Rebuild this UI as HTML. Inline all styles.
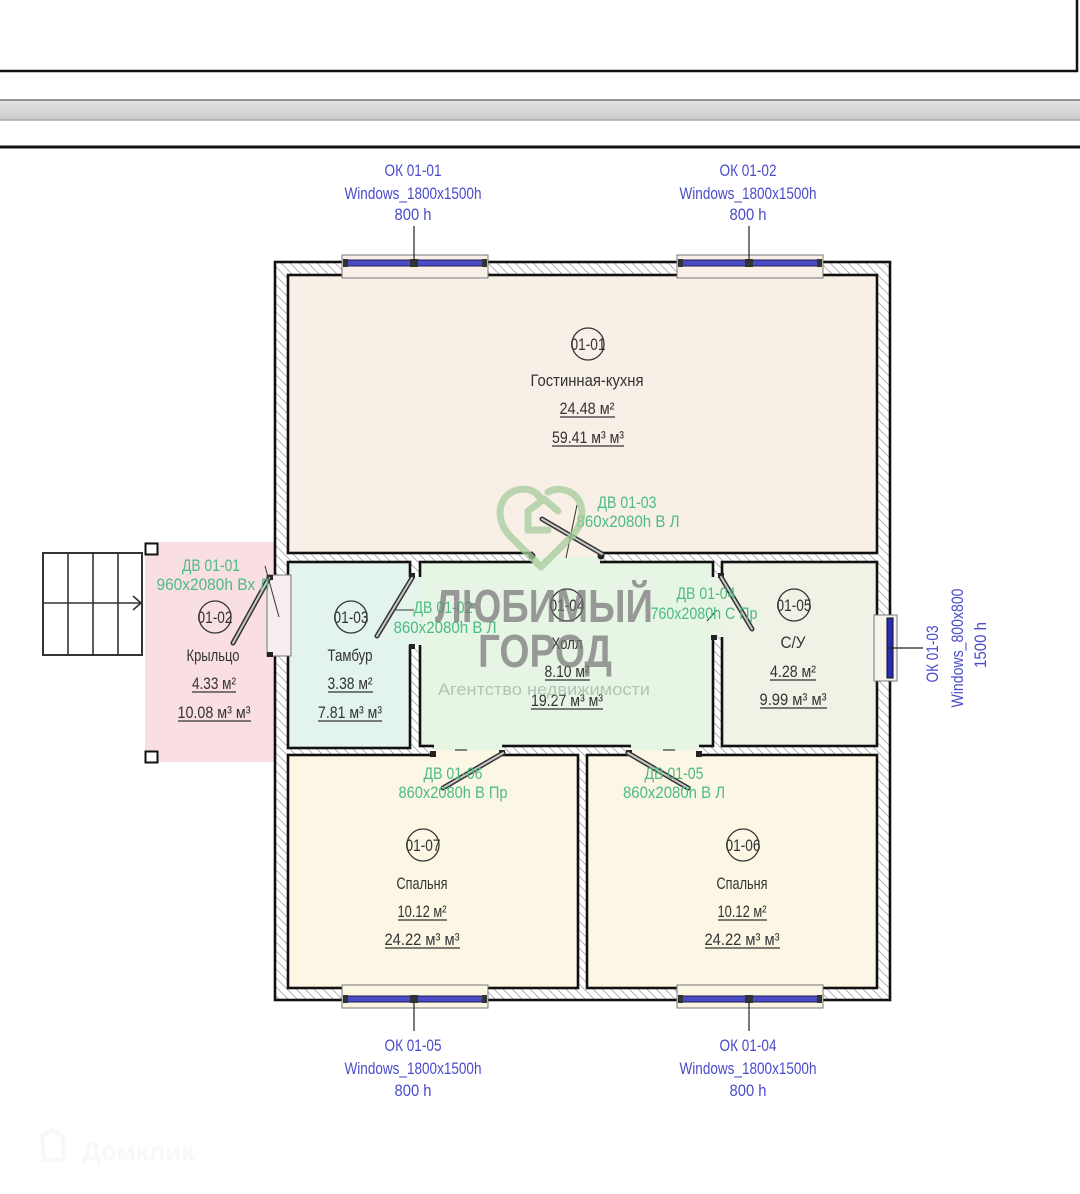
<!DOCTYPE html>
<html><head><meta charset="utf-8"><style>
html,body{margin:0;padding:0;background:#fff;}
svg{display:block;}
.t{font-family:"Liberation Sans Narrow","Liberation Sans",sans-serif;font-size:16.5px;text-anchor:middle;}
.b{fill:#4b4bcc;}
.g{fill:#4cbb82;}
.k{fill:#333;}
.u{stroke:#333;stroke-width:1.2;}
</style></head><body>
<svg width="1080" height="1194" viewBox="0 0 1080 1194" xmlns="http://www.w3.org/2000/svg">
<defs>
<pattern id="h" width="9" height="9" patternUnits="userSpaceOnUse">
<rect width="9" height="9" fill="#fff"/>
<path d="M-2,-2 L11,11 M-2,7 L2,11 M7,-2 L11,2" stroke="#ababab" stroke-width="0.9"/>
</pattern>
<linearGradient id="gb" x1="0" y1="0" x2="0" y2="1">
<stop offset="0" stop-color="#e2e2e2"/><stop offset="0.6" stop-color="#d6d6d6"/><stop offset="1" stop-color="#c8c8c8"/>
</linearGradient>
</defs>
<rect width="1080" height="1194" fill="#fff"/>
<!-- top frame -->
<rect x="-3" y="-3" width="1080" height="74" fill="#fff" stroke="#111" stroke-width="2.5"/>
<rect x="-2" y="100" width="1084" height="20" fill="url(#gb)"/>
<line x1="0" y1="100" x2="1080" y2="100" stroke="#777" stroke-width="1.5"/>
<line x1="0" y1="120" x2="1080" y2="120" stroke="#aaa" stroke-width="1.5"/>
<line x1="0" y1="147" x2="1080" y2="147" stroke="#111" stroke-width="3"/>

<!-- porch -->
<rect x="145" y="542" width="132" height="220" fill="#f9dfe2"/>
<rect x="145.5" y="543.5" width="12" height="11" fill="#fff" stroke="#111" stroke-width="2"/>
<rect x="145.5" y="751.5" width="12" height="11" fill="#fff" stroke="#111" stroke-width="2"/>
<!-- stairs -->
<g stroke="#333" stroke-width="1.6" fill="none">
<rect x="43" y="553" width="99" height="102" fill="#fff" stroke-width="2"/>
<line x1="68" y1="553" x2="68" y2="655"/>
<line x1="93" y1="553" x2="93" y2="655"/>
<line x1="118" y1="553" x2="118" y2="655"/>
<line x1="43" y1="603" x2="142" y2="603"/>
<polyline points="133,596 141,603 133,610"/>
</g>

<!-- building -->
<rect x="275" y="262" width="615" height="738" fill="url(#h)" stroke="#111" stroke-width="2.6"/>
<g stroke="#111" stroke-width="2.6">
<rect x="288" y="275" width="589" height="278" fill="#f8efe6"/>
<rect x="288" y="562" width="122" height="186" fill="#e2f4ec"/>
<rect x="420" y="562" width="293" height="184" fill="#e7f5e4"/>
<rect x="722" y="562" width="155" height="184" fill="#eef3e6"/>
<rect x="288" y="755" width="290" height="233" fill="#fcf6e4"/>
<rect x="587" y="755" width="290" height="233" fill="#fcf6e4"/>
</g>
<!-- openings -->
<rect x="533" y="550" width="67" height="8" fill="#f8efe6"/>
<rect x="533" y="557" width="67" height="7" fill="#e7f5e4"/>
<rect x="408" y="577" width="14" height="68" fill="#e4f4ea"/>
<rect x="711" y="577" width="13" height="60" fill="#eaf4e5"/>
<rect x="434" y="744" width="68" height="6" fill="#e7f5e4"/>
<rect x="434" y="750" width="68" height="7" fill="#fcf6e4"/>
<rect x="631" y="744" width="68" height="6" fill="#e7f5e4"/>
<rect x="631" y="750" width="68" height="7" fill="#fcf6e4"/>
<rect x="267" y="575" width="24" height="81" fill="#f6eeee" stroke="#777" stroke-width="1"/>
<!-- wall end caps -->
<g fill="#222">
<rect x="267" y="575" width="6" height="5"/>
<rect x="267" y="652" width="6" height="5"/>
<rect x="409" y="573" width="6" height="5"/>
<rect x="409" y="644" width="6" height="5"/>
<rect x="718" y="573" width="6" height="5"/>
<rect x="711" y="635" width="6" height="5"/>
<rect x="430" y="751" width="6" height="6"/>
<rect x="499" y="750" width="6" height="6"/>
<rect x="626" y="750" width="6" height="6"/>
<rect x="696" y="751" width="6" height="6"/>
<circle cx="532" cy="556" r="3.5"/>
<circle cx="601" cy="556" r="3.5"/>
</g>
<g stroke="#333" stroke-width="1.2">
<line x1="455" y1="750" x2="467" y2="750"/>
<line x1="663" y1="750" x2="675" y2="750"/>
</g>
<!-- door leaves -->
<g stroke-linecap="round">
<g stroke="#333" stroke-width="5">
<line x1="269" y1="578" x2="233" y2="643"/>
<line x1="412" y1="578" x2="377" y2="636"/>
<line x1="602" y1="554" x2="542" y2="519"/>
<line x1="721" y1="577" x2="752" y2="629"/>
<line x1="503" y1="753" x2="443" y2="788"/>
<line x1="628" y1="753" x2="688" y2="788"/>
</g>
<g stroke="#c8c8c8" stroke-width="2">
<line x1="269" y1="578" x2="233" y2="643"/>
<line x1="412" y1="578" x2="377" y2="636"/>
<line x1="602" y1="554" x2="542" y2="519"/>
<line x1="721" y1="577" x2="752" y2="629"/>
<line x1="503" y1="753" x2="443" y2="788"/>
<line x1="628" y1="753" x2="688" y2="788"/>
</g>
</g>
<g stroke="#333" stroke-width="1">
<line x1="265" y1="566" x2="279" y2="617"/>
<line x1="577" y1="505" x2="566" y2="558"/>
<line x1="707" y1="621" x2="717" y2="610"/>
<line x1="394" y1="610" x2="414" y2="610"/>
</g>

<!-- windows top -->
<g>
<rect x="342" y="255" width="146" height="23" fill="#f8efe6" stroke="#777" stroke-width="1"/>
<rect x="345" y="260" width="140" height="6" fill="#4a4ac6" stroke="#1e1e50" stroke-width="1"/>
<rect x="677" y="255" width="146" height="23" fill="#f8efe6" stroke="#777" stroke-width="1"/>
<rect x="680" y="260" width="140" height="6" fill="#4a4ac6" stroke="#1e1e50" stroke-width="1"/>
<g fill="#333"><rect x="343" y="259" width="5" height="8"/><rect x="410" y="259" width="8" height="8"/><rect x="482" y="259" width="5" height="8"/>
<rect x="678" y="259" width="5" height="8"/><rect x="745" y="259" width="8" height="8"/><rect x="817" y="259" width="5" height="8"/></g>
<line x1="414" y1="226" x2="414" y2="261" stroke="#222" stroke-width="1.2"/>
<line x1="749" y1="226" x2="749" y2="261" stroke="#222" stroke-width="1.2"/>
</g>
<!-- windows bottom -->
<g>
<rect x="342" y="985" width="146" height="23" fill="#fcf6e4" stroke="#777" stroke-width="1"/>
<rect x="345" y="996" width="140" height="6" fill="#4a4ac6" stroke="#1e1e50" stroke-width="1"/>
<rect x="677" y="985" width="146" height="23" fill="#fcf6e4" stroke="#777" stroke-width="1"/>
<rect x="680" y="996" width="140" height="6" fill="#4a4ac6" stroke="#1e1e50" stroke-width="1"/>
<g fill="#333"><rect x="343" y="995" width="5" height="8"/><rect x="410" y="995" width="8" height="8"/><rect x="482" y="995" width="5" height="8"/>
<rect x="678" y="995" width="5" height="8"/><rect x="745" y="995" width="8" height="8"/><rect x="817" y="995" width="5" height="8"/></g>
<line x1="414" y1="1002" x2="414" y2="1031" stroke="#222" stroke-width="1.2"/>
<line x1="749" y1="1002" x2="749" y2="1031" stroke="#222" stroke-width="1.2"/>
</g>
<!-- window right -->
<rect x="874" y="615" width="23" height="66" fill="#f4f3ec" stroke="#777" stroke-width="1"/>
<rect x="887" y="618" width="6" height="60" fill="#2a2ab8" stroke="#111" stroke-width="1"/>
<line x1="887" y1="648" x2="923" y2="648" stroke="#222" stroke-width="1.2"/>

<!-- window labels -->
<text class="t b" x="413" y="176" textLength="57" lengthAdjust="spacingAndGlyphs">ОК 01-01</text>
<text class="t b" x="413" y="199" textLength="137" lengthAdjust="spacingAndGlyphs">Windows_1800x1500h</text>
<text class="t b" x="413" y="220" textLength="37" lengthAdjust="spacingAndGlyphs">800 h</text>
<text class="t b" x="748" y="176" textLength="57" lengthAdjust="spacingAndGlyphs">ОК 01-02</text>
<text class="t b" x="748" y="199" textLength="137" lengthAdjust="spacingAndGlyphs">Windows_1800x1500h</text>
<text class="t b" x="748" y="220" textLength="37" lengthAdjust="spacingAndGlyphs">800 h</text>
<text class="t b" x="413" y="1051" textLength="57" lengthAdjust="spacingAndGlyphs">ОК 01-05</text>
<text class="t b" x="413" y="1074" textLength="137" lengthAdjust="spacingAndGlyphs">Windows_1800x1500h</text>
<text class="t b" x="413" y="1096" textLength="37" lengthAdjust="spacingAndGlyphs">800 h</text>
<text class="t b" x="748" y="1051" textLength="57" lengthAdjust="spacingAndGlyphs">ОК 01-04</text>
<text class="t b" x="748" y="1074" textLength="137" lengthAdjust="spacingAndGlyphs">Windows_1800x1500h</text>
<text class="t b" x="748" y="1096" textLength="37" lengthAdjust="spacingAndGlyphs">800 h</text>
<text class="t b" transform="translate(938,654) rotate(-90)" x="0" y="0" textLength="57" lengthAdjust="spacingAndGlyphs">ОК 01-03</text>
<text class="t b" transform="translate(963,648) rotate(-90)" x="0" y="0" textLength="119" lengthAdjust="spacingAndGlyphs">Windows_800x800</text>
<text class="t b" transform="translate(986,645) rotate(-90)" x="0" y="0" textLength="46" lengthAdjust="spacingAndGlyphs">1500 h</text>

<!-- door labels -->
<text class="t g" x="627" y="508" textLength="59" lengthAdjust="spacingAndGlyphs">ДВ 01-03</text>
<text class="t g" x="628" y="527" textLength="103" lengthAdjust="spacingAndGlyphs">860x2080h В Л</text>
<text class="t g" x="211" y="571" textLength="58" lengthAdjust="spacingAndGlyphs">ДВ 01-01</text>
<text class="t g" x="213" y="590" textLength="113" lengthAdjust="spacingAndGlyphs">960x2080h Вх Л</text>
<text class="t g" x="443" y="613" textLength="59" lengthAdjust="spacingAndGlyphs">ДВ 01-02</text>
<text class="t g" x="445" y="633" textLength="103" lengthAdjust="spacingAndGlyphs">860x2080h В Л</text>
<text class="t g" x="706" y="599" textLength="59" lengthAdjust="spacingAndGlyphs">ДВ 01-04</text>
<text class="t g" x="704" y="619" textLength="107" lengthAdjust="spacingAndGlyphs">760x2080h С Пр</text>
<text class="t g" x="453" y="779" textLength="59" lengthAdjust="spacingAndGlyphs">ДВ 01-06</text>
<text class="t g" x="453" y="798" textLength="109" lengthAdjust="spacingAndGlyphs">860x2080h В Пр</text>
<text class="t g" x="674" y="779" textLength="59" lengthAdjust="spacingAndGlyphs">ДВ 01-05</text>
<text class="t g" x="674" y="798" textLength="102" lengthAdjust="spacingAndGlyphs">860x2080h В Л</text>

<!-- room labels -->
<g fill="none" stroke="#333" stroke-width="1.3">
<circle cx="588" cy="344" r="16"/>
<circle cx="215" cy="617" r="16"/>
<circle cx="351" cy="617" r="16"/>
<circle cx="567" cy="605" r="16"/>
<circle cx="794" cy="605" r="16"/>
<circle cx="423" cy="845" r="16"/>
<circle cx="743" cy="845" r="16"/>
</g>
<text class="t k" x="588" y="350" textLength="35" lengthAdjust="spacingAndGlyphs">01-01</text>
<text class="t k" x="587" y="386" textLength="113" lengthAdjust="spacingAndGlyphs">Гостинная-кухня</text>
<text class="t k" x="587" y="414" textLength="55" lengthAdjust="spacingAndGlyphs">24.48 м²</text>
<line class="u" x1="560" y1="417" x2="615" y2="417"/>
<text class="t k" x="588" y="443" textLength="72" lengthAdjust="spacingAndGlyphs">59.41 м³ м³</text>
<line class="u" x1="552" y1="446" x2="624" y2="446"/>

<text class="t k" x="215" y="623" textLength="35" lengthAdjust="spacingAndGlyphs">01-02</text>
<text class="t k" x="213" y="661" textLength="53" lengthAdjust="spacingAndGlyphs">Крыльцо</text>
<text class="t k" x="214" y="689" textLength="44" lengthAdjust="spacingAndGlyphs">4.33 м²</text>
<line class="u" x1="192" y1="692" x2="236" y2="692"/>
<text class="t k" x="214" y="718" textLength="73" lengthAdjust="spacingAndGlyphs">10.08 м³ м³</text>
<line class="u" x1="178" y1="721" x2="251" y2="721"/>

<text class="t k" x="351" y="623" textLength="35" lengthAdjust="spacingAndGlyphs">01-03</text>
<text class="t k" x="350" y="661" textLength="45" lengthAdjust="spacingAndGlyphs">Тамбур</text>
<text class="t k" x="350" y="689" textLength="45" lengthAdjust="spacingAndGlyphs">3.38 м²</text>
<line class="u" x1="328" y1="692" x2="373" y2="692"/>
<text class="t k" x="350" y="718" textLength="64" lengthAdjust="spacingAndGlyphs">7.81 м³ м³</text>
<line class="u" x1="318" y1="721" x2="382" y2="721"/>

<text class="t k" x="567" y="611" textLength="35" lengthAdjust="spacingAndGlyphs">01-04</text>
<text class="t k" x="567" y="649" textLength="31" lengthAdjust="spacingAndGlyphs">Холл</text>
<text class="t k" x="567" y="677" textLength="45" lengthAdjust="spacingAndGlyphs">8.10 м²</text>
<line class="u" x1="545" y1="680" x2="590" y2="680"/>
<text class="t k" x="567" y="706" textLength="72" lengthAdjust="spacingAndGlyphs">19.27 м³ м³</text>
<line class="u" x1="531" y1="709" x2="603" y2="709"/>

<text class="t k" x="794" y="611" textLength="35" lengthAdjust="spacingAndGlyphs">01-05</text>
<text class="t k" x="793" y="648" textLength="25" lengthAdjust="spacingAndGlyphs">С/У</text>
<text class="t k" x="793" y="677" textLength="46" lengthAdjust="spacingAndGlyphs">4.28 м²</text>
<line class="u" x1="770" y1="680" x2="816" y2="680"/>
<text class="t k" x="793" y="705" textLength="67" lengthAdjust="spacingAndGlyphs">9.99 м³ м³</text>
<line class="u" x1="760" y1="708" x2="827" y2="708"/>

<text class="t k" x="423" y="851" textLength="35" lengthAdjust="spacingAndGlyphs">01-07</text>
<text class="t k" x="422" y="889" textLength="51" lengthAdjust="spacingAndGlyphs">Спальня</text>
<text class="t k" x="422" y="917" textLength="49" lengthAdjust="spacingAndGlyphs">10.12 м²</text>
<line class="u" x1="398" y1="920" x2="447" y2="920"/>
<text class="t k" x="422" y="945" textLength="75" lengthAdjust="spacingAndGlyphs">24.22 м³ м³</text>
<line class="u" x1="385" y1="948" x2="460" y2="948"/>

<text class="t k" x="743" y="851" textLength="35" lengthAdjust="spacingAndGlyphs">01-06</text>
<text class="t k" x="742" y="889" textLength="51" lengthAdjust="spacingAndGlyphs">Спальня</text>
<text class="t k" x="742" y="917" textLength="49" lengthAdjust="spacingAndGlyphs">10.12 м²</text>
<line class="u" x1="718" y1="920" x2="767" y2="920"/>
<text class="t k" x="742" y="945" textLength="75" lengthAdjust="spacingAndGlyphs">24.22 м³ м³</text>
<line class="u" x1="705" y1="948" x2="780" y2="948"/>

<!-- watermark -->
<g opacity="0.75" fill="none" stroke="#a6cc9c" stroke-width="7" stroke-linejoin="round" stroke-linecap="round">
<path d="M541,567 L510,536 C496,521 497,500 512,492 C524,486 536,490 541,499"/>
<path d="M541,567 L572,536 C586,521 585,500 570,492 C562,488 554,489 548,492"/>
<path d="M528,530 L528,511 L544,499 L558,511"/>
<path d="M528,530 L548,530"/>
</g>
<text x="544" y="622" font-family="Liberation Sans, sans-serif" font-weight="bold" font-size="46" fill="#777" opacity="0.72" text-anchor="middle" textLength="218" lengthAdjust="spacingAndGlyphs">ЛЮБИМЫЙ</text>
<text x="545" y="667" font-family="Liberation Sans, sans-serif" font-weight="bold" font-size="46" fill="#777" opacity="0.72" text-anchor="middle" textLength="134" lengthAdjust="spacingAndGlyphs">ГОРОД</text>
<text x="544" y="695" font-family="Liberation Sans, sans-serif" font-size="17" fill="#aebfae" opacity="0.9" text-anchor="middle" textLength="212" lengthAdjust="spacingAndGlyphs">Агентство недвижимости</text>

<!-- domclick faint logo -->
<g opacity="0.5">
<path d="M42,1136 L52,1130 L63,1136 L63,1160 L44,1160 Z" fill="none" stroke="#f3f3f3" stroke-width="4"/>
<text x="82" y="1160" font-family="Liberation Sans, sans-serif" font-weight="bold" font-size="26" fill="#f2f2f2">Домклик</text>
</g>
</svg>
</body></html>
